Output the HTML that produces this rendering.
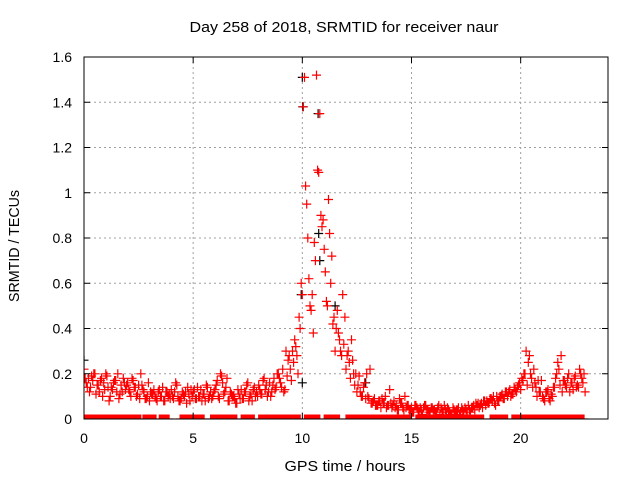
<!DOCTYPE html>
<html><head><meta charset="utf-8"><style>
body{margin:0;background:#fff}
svg{display:block;font-family:"Liberation Sans",sans-serif;font-size:14px}
</style></head><body>
<svg id="c" width="640" height="480">
<defs><clipPath id="pc"><rect x="84" y="57" width="524" height="362"/></clipPath></defs>
<rect width="640" height="480" fill="#fff"/>
<text x="344" y="32" text-anchor="middle" font-size="15" textLength="309" lengthAdjust="spacingAndGlyphs">Day 258 of 2018, SRMTID for receiver naur</text>
<text x="345" y="471" text-anchor="middle" font-size="15" textLength="121" lengthAdjust="spacingAndGlyphs">GPS time / hours</text>
<text transform="translate(19,246) rotate(-90)" text-anchor="middle" font-size="15" textLength="112" lengthAdjust="spacingAndGlyphs">SRMTID / TECUs</text>
<g id="grid"></g>
<g id="marks" clip-path="url(#pc)"></g>
<rect x="84" y="57" width="524" height="362" fill="none" stroke="#000"/>
<g id="ticks"></g>
</svg>
<script>
const xTicks=[0,5,10,15,20];
const yTicks=[0,0.2,0.4,0.6,0.8,1,1.2,1.4,1.6];
const yTickLabels=["0","0.2","0.4","0.6","0.8","1","1.2","1.4","1.6"];
const mainValues=[.22,.16,.18,.14,.17,.2,.15,.12,.18,.16,
.2,.14,.1,.13,.17,.12,.09,.15,.18,.13,
.16,.12,.18,.14,.1,.15,.2,.13,.09,.1,
.08,.11,.13,.09,.12,.1,.14,.08,.12,.11,
.13,.09,.16,.1,.08,.12,.1,.07,.11,.13,
.12,.09,.14,.1,.08,.11,.15,.09,.12,.1,
.13,.17,.09,.19,.11,.14,.08,.12,.1,.09,
.07,.11,.13,.09,.12,.16,.1,.08,.14,.12,
.15,.11,.17,.13,.1,.16,.12,.18,.14,.2,
.16,.22,.13,.19,.28,.17,.25,.32,.2,.4,
.55,1.51,.95,.62,.48,.38,.7,1.1,1.35,.85,
.75,.52,.97,.6,.42,.3,.48,.35,.28,.33,
.22,.3,.18,.26,.15,.12,.19,.1,.14,.09,
.1,.22,.07,.09,.06,.08,.05,.07,.1,.06,
.13,.05,.08,.06,.04,.07,.05,.1,.06,.04,
.05,.03,.06,.04,.05,.02,.06,.04,.03,.05,
.04,.03,.05,.02,.04,.06,.03,.04,.02,.05,
.03,.04,.02,.05,.03,.04,.06,.03,.05,.04,
.06,.05,.07,.08,.06,.07,.09,.08,.07,.1,
.08,.1,.09,.12,.1,.13,.11,.14,.12,.15,
.13,.17,.2,.15,.28,.18,.22,.14,.17,.12,
.1,.08,.12,.09,.11,.14,.18,.25,.15,.12,
.17,.14,.2,.16,.13,.19,.15,.22,.18,.2];
const extraValues=[.18,.12,.2,.15,.1,.19,.14,.17,.11,.16,
.13,.17,.11,.15,.09,.12,.1,.13,.08,.1,
.1,.15,.09,.12,.08,.13,.1,.11,.14,.09,
.15,.2,.12,.08,.1,.13,.09,.15,.11,.1,
.13,.18,.12,.15,.2,.14,.3,.22,.35,.45,
1.38,.8,.55,1.52,.9,.65,.82,.45,.38,.55,
.28,.35,.2,.12,.16,.09,.08,.06,.09,.05,
.07,.05,.09,.04,.06,.03,.05,.04,.06,.03,
.04,.06,.03,.05,.02,.04,.03,.05,.04,.06,
.07,.05,.08,.09,.06,.1,.09,.12,.11,.14,
.18,.3,.2,.16,.12,.09,.13,.1,.2,.28,
.15,.12,.18,.14,.16];
const thirdValues=[.14,.19,.11,.17,.13,.08,.16,.2,.12,.15,
.1,.14,.09,.12,.16,.11,.08,.1,.12,.09,
.12,.08,.11,.14,.1,.09,.13,.08,.1,.12,
.1,.16,.18,.11,.07,.09,.12,.08,.13,.1,
.11,.15,.1,.13,.18,.12,.26,.3,.28,.6,
1.03,.5,.78,1.09,.88,.5,.72,.4,.3,.45,
.25,.2,.15,.1,.2,.07,.06,.08,.07,.06,
.06,.04,.07,.05,.04,.06,.03,.05,.04,.05,
.03,.05,.04,.03,.04,.05,.04,.03,.05,.07,
.06,.08,.07,.1,.08,.11,.12,.1,.13,.16,
.2,.25,.14,.1,.17,.12,.08,.14,.22,.17,
.18,.16,.14,.2,.12];
const blackTimes=[0,10.0,10.02,10.72,10.75,10.8,10.0,9.95,11.5,12.9];
const blackValues=[.26,1.51,1.38,1.35,.82,.7,.16,.55,.5,.16];
const zeroRanges=[[0,2.6],[2.7,3.3],[3.45,3.9],[4.4,5.5],[5.8,7.0],[7.2,7.8],[8.0,9.9],[10.1,10.8],[11,11.7],[12,15],[15.2,18.3],[18.6,19.4],[19.6,22.9]];
const X=t=>84+t*524/24, Y=v=>419-v*362/1.6;
const NS="http://www.w3.org/2000/svg";
const grid=document.getElementById('grid'),marks=document.getElementById('marks'),ticks=document.getElementById('ticks');
function line(p,x1,y1,x2,y2,st,dash){const l=document.createElementNS(NS,'line');l.setAttribute('x1',x1);l.setAttribute('y1',y1);l.setAttribute('x2',x2);l.setAttribute('y2',y2);l.setAttribute('stroke',st);if(dash)l.setAttribute('stroke-dasharray',dash);p.appendChild(l);return l;}
function txt(p,x,y,s,a){const t=document.createElementNS(NS,'text');t.setAttribute('x',x);t.setAttribute('y',y);t.setAttribute('text-anchor',a);t.textContent=s;p.appendChild(t);return t;}
xTicks.forEach(t=>{const x=X(t);
if(t>0){const g=line(grid,x,57,x,419,'#a0a0a0','2,3');}
line(ticks,x,419,x,413,'#000');line(ticks,x,57,x,63,'#000');
const l=txt(ticks,x,443,String(t),'middle');

});
yTicks.forEach((v,i)=>{const y=Y(v);
if(v>0&&v<1.6){const g=line(grid,84,y,608,y,'#a0a0a0','2,3');}
line(ticks,84,y,90,y,'#000');line(ticks,608,y,602,y,'#000');
const l=txt(ticks,72,y+5,yTickLabels[i],'end');

});
let d={black:'',red:''};
function plus(c,t,v){const x=X(t),y=Y(v);d[c]+=`M${(x-4.5).toFixed(1)} ${y.toFixed(1)}h9M${x.toFixed(1)} ${(y-4.5).toFixed(1)}v9`;}
blackTimes.forEach((t,i)=>plus('black',t,blackValues[i]));
zeroRanges.forEach(r=>{for(let t=r[0];t<=r[1]+1e-9;t+=0.05)plus('red',t,0);});
mainValues.forEach((v,i)=>plus('red',i*0.1,v));
extraValues.forEach((v,i)=>plus('red',0.05+i*0.2,v));
thirdValues.forEach((v,i)=>plus('red',0.15+i*0.2,v));
['black','red'].forEach(c=>{const p=document.createElementNS(NS,'path');p.setAttribute('d',d[c]);p.setAttribute('stroke',c==='red'?'#ff0000':'#000');p.setAttribute('stroke-width','1.2');p.setAttribute('fill','none');


marks.appendChild(p);});
</script>
</body></html>
